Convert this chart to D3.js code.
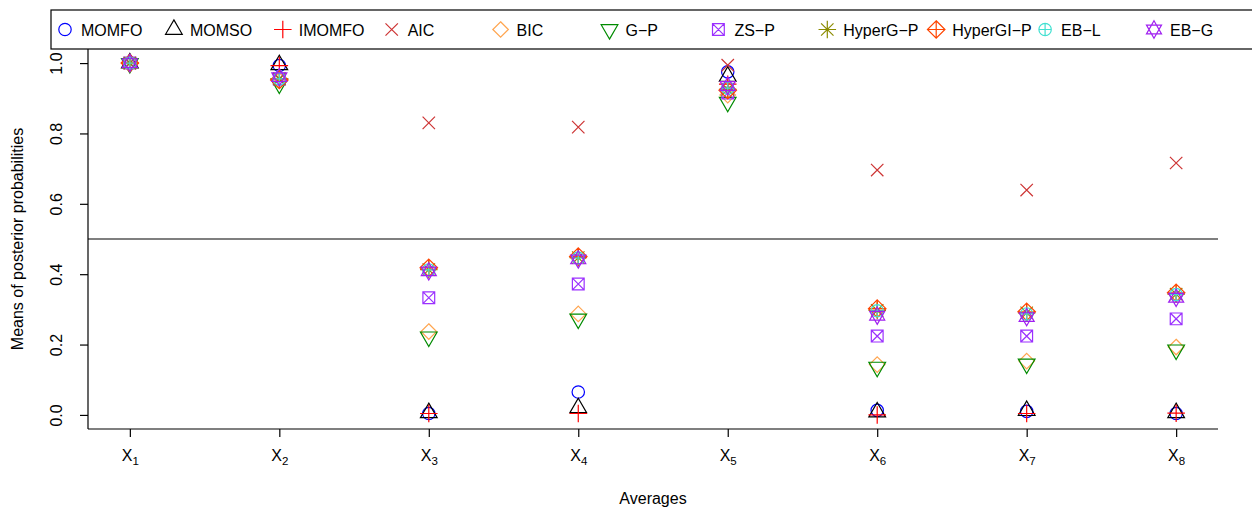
<!DOCTYPE html>
<html>
<head>
<meta charset="utf-8">
<script src="https://cdn.jsdelivr.net/npm/d3@7"></script>
<style>
  html, body { margin: 0; padding: 0; background: #fff; }
  svg { display: block; font-family: "Liberation Sans", Arial, Helvetica, sans-serif; }
</style>
</head>
<body>
<svg id="chart" width="1252" height="511"></svg>
<script>
// Variables on the x axis (drawn as X with a subscript)
const variables = ["1", "2", "3", "4", "5", "6", "7", "8"];

// Methods in plotting order
const methods = ["MOMFO", "MOMSO", "IMOMFO", "AIC", "BIC", "G\u2212P", "ZS\u2212P",
                 "HyperG\u2212P", "HyperGI\u2212P", "EB\u2212L", "EB\u2212G"];

// Means of posterior inclusion probabilities, one array per method (X1..X8)
const momfo   = [1.000, 0.993, 0.004, 0.065, 0.975, 0.013, 0.010, 0.004];
const momso   = [1.000, 0.995, 0.006, 0.020, 0.962, 0.008, 0.012, 0.006];
const imomfo  = [1.000, 0.993, 0.004, 0.004, 0.940, 0.000, 0.004, 0.005];
const aic     = [1.000, 0.955, 0.830, 0.818, 0.994, 0.696, 0.639, 0.716];
const bic     = [1.000, 0.950, 0.237, 0.287, 0.909, 0.143, 0.153, 0.193];
const gp      = [0.999, 0.941, 0.222, 0.273, 0.889, 0.136, 0.145, 0.185];
const zsp     = [1.000, 0.955, 0.333, 0.372, 0.915, 0.224, 0.224, 0.273];
const hypergp = [1.000, 0.955, 0.413, 0.447, 0.925, 0.297, 0.290, 0.343];
const hypergi = [1.000, 0.952, 0.418, 0.450, 0.923, 0.302, 0.293, 0.347];
const ebl     = [1.000, 0.955, 0.412, 0.446, 0.929, 0.296, 0.287, 0.342];
const ebg     = [1.000, 0.960, 0.408, 0.442, 0.935, 0.282, 0.278, 0.333];

const seriesValues = [momfo, momso, imomfo, aic, bic, gp, zsp, hypergp, hypergi, ebl, ebg];

// y axis ticks
const yTicks = [0.0, 0.2, 0.4, 0.6, 0.8, 1.0];

// Symbol codes (R-style pch 1..11) and colours per method
const pchCodes = [1, 2, 3, 4, 5, 6, 7, 8, 9, 10, 11];
const colours = ["#0000FF", "#000000", "#FF0000", "#CD3333", "#FFA54F", "#008B00",
                 "#9B30FF", "#8B8B00", "#FF4500", "#40E0D0", "#A020F0"];

const svg = d3.select("#chart");
const margin = { left: 88, right: 1218, top: 49, bottom: 429 };
const FONT = 16;
const RAD = 6.2;   // base symbol radius

const x = d3.scaleLinear().domain([0.72, 8.28]).range([margin.left, margin.right]);
const y = d3.scaleLinear().domain([-0.04, 1.04]).range([margin.bottom, margin.top]);

// Path for an R-like plotting symbol centred at (0,0)
function symbolPath(pch, R) {
  const p = d3.path();
  const circle = (r) => { p.moveTo(r, 0); p.arc(0, 0, r, 0, 2 * Math.PI); };
  const plus = (h) => { p.moveTo(-h, 0); p.lineTo(h, 0); p.moveTo(0, -h); p.lineTo(0, h); };
  const cross = (h) => { p.moveTo(-h, -h); p.lineTo(h, h); p.moveTo(-h, h); p.lineTo(h, -h); };
  const tri = (dir, r) => {
    const xc = 0.866 * r, yc = 0.5 * r;
    p.moveTo(0, -dir * r); p.lineTo(xc, dir * yc); p.lineTo(-xc, dir * yc); p.closePath();
  };
  const diamond = (h) => { p.moveTo(0, -h); p.lineTo(h, 0); p.lineTo(0, h); p.lineTo(-h, 0); p.closePath(); };
  switch (pch) {
    case 1: circle(R); break;
    case 2: tri(1, 1.555 * R); break;
    case 3: plus(1.414 * R); break;
    case 4: cross(R); break;
    case 5: diamond(1.253 * R); break;
    case 6: tri(-1, 1.555 * R); break;
    case 7: { const h = 0.95 * R; p.rect(-h, -h, 2 * h, 2 * h); cross(h); break; }
    case 8: cross(R); plus(1.414 * R); break;
    case 9: diamond(1.414 * R); plus(1.414 * R); break;
    case 10: circle(R); plus(R); break;
    case 11: tri(1, 1.4 * R); tri(-1, 1.4 * R); break;
  }
  return p.toString();
}

// Frame (left and bottom sides)
svg.append("line").attr("x1", margin.left).attr("x2", margin.left)
  .attr("y1", margin.top).attr("y2", margin.bottom)
  .attr("stroke", "#000").attr("stroke-width", 1.2);
svg.append("line").attr("x1", margin.left).attr("x2", margin.right)
  .attr("y1", margin.bottom).attr("y2", margin.bottom)
  .attr("stroke", "#000").attr("stroke-width", 1.2);

// Y axis
const yAxis = d3.axisLeft(y).tickValues(yTicks).tickFormat(d3.format(".1f"))
  .tickSize(8).tickSizeOuter(0);
const gy = svg.append("g").attr("transform", `translate(${margin.left},0)`).call(yAxis);
gy.select(".domain").remove();
gy.selectAll(".tick line").attr("stroke", "#000").attr("stroke-width", 1.2);
gy.selectAll(".tick text")
  .attr("font-size", FONT).attr("font-family", null).attr("fill", "#000")
  .attr("text-anchor", "middle").attr("dy", null).attr("x", null)
  .attr("transform", "translate(-26,0) rotate(-90)");

// X axis
const xAxis = d3.axisBottom(x).tickValues(d3.range(1, variables.length + 1))
  .tickFormat("").tickSize(8).tickSizeOuter(0);
const gx = svg.append("g").attr("transform", `translate(0,${margin.bottom})`).call(xAxis);
gx.select(".domain").remove();
gx.selectAll(".tick line").attr("stroke", "#000").attr("stroke-width", 1.2);
gx.selectAll(".tick").each(function (d, i) {
  const t = d3.select(this).append("text")
    .attr("y", 32).attr("text-anchor", "middle").attr("fill", "#000")
    .attr("font-size", FONT);
  t.append("tspan").text("X");
  t.append("tspan").attr("font-size", FONT * 0.72).attr("dy", 4).text(variables[i]);
});

// Axis titles
svg.append("text").attr("x", (margin.left + margin.right) / 2).attr("y", 504)
  .attr("text-anchor", "middle").attr("font-size", FONT).text("Averages");
svg.append("text")
  .attr("transform", `translate(23,${(margin.top + margin.bottom) / 2}) rotate(-90)`)
  .attr("text-anchor", "middle").attr("font-size", FONT)
  .text("Means of posterior probabilities");

// Reference line at 0.5
svg.append("line").attr("x1", margin.left).attr("x2", margin.right)
  .attr("y1", y(0.5)).attr("y2", y(0.5))
  .attr("stroke", "#000").attr("stroke-width", 1.2);

// Points
const pts = svg.append("g");
seriesValues.forEach((vals, s) => {
  pts.append("g").selectAll("path").data(vals).join("path")
    .attr("d", symbolPath(pchCodes[s], RAD))
    .attr("transform", (v, i) => `translate(${x(i + 1)},${y(v)})`)
    .attr("fill", "none").attr("stroke", colours[s]).attr("stroke-width", 1.2);
});

// Legend (horizontal, one row)
const legendLeft = 51, legendTop = 10, legendBottom = 49, legendStep = 108.9;
const lg = svg.append("g");
lg.append("rect").attr("x", legendLeft).attr("y", legendTop)
  .attr("width", 1300).attr("height", legendBottom - legendTop)
  .attr("fill", "#fff").attr("stroke", "#000").attr("stroke-width", 1.2);
const ly = (legendTop + legendBottom) / 2;
methods.forEach((m, s) => {
  const sx = legendLeft + 14 + s * legendStep;
  lg.append("path").attr("d", symbolPath(pchCodes[s], RAD))
    .attr("transform", `translate(${sx},${ly})`)
    .attr("fill", "none").attr("stroke", colours[s]).attr("stroke-width", 1.2);
  lg.append("text").attr("x", sx + 16).attr("y", ly + 6)
    .attr("font-size", FONT).attr("fill", "#000").text(m);
});
</script>
</body>
</html>
